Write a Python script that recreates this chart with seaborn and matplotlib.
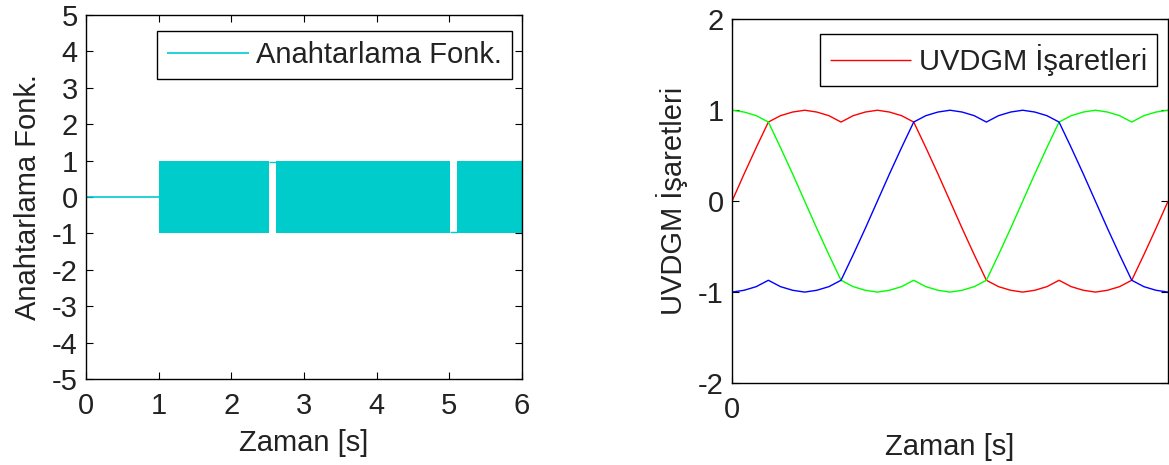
import numpy as np
import pandas as pd
import seaborn as sns
import matplotlib.pyplot as plt

# left panel: switching function
zero_t = [0.0, 1.0]
zero_v = [0.0, 0.0]
switch_start = [1.0, 2.62, 5.10]
switch_end = [2.52, 5.01, 6.0]
hold_start = [2.52, 5.01]
hold_end = [2.62, 5.10]
hold_level = [0.97, -0.97]

# right panel: SVPWM signals, one period (angle in degrees)
angle = [0, 10, 20, 30, 40, 50, 60, 70, 80, 90, 100, 110, 120, 130, 140, 150, 160, 170,
         180, 190, 200, 210, 220, 230, 240, 250, 260, 270, 280, 290, 300, 310, 320, 330,
         340, 350, 360]
phase_a = [0.0, 0.30, 0.59, 0.87, 0.94, 0.98, 1.0, 0.98, 0.94, 0.87, 0.94, 0.98, 1.0,
           0.98, 0.94, 0.87, 0.59, 0.30, 0.0, -0.30, -0.59, -0.87, -0.94, -0.98, -1.0,
           -0.98, -0.94, -0.87, -0.94, -0.98, -1.0, -0.98, -0.94, -0.87, -0.59, -0.30, 0.0]
phase_b = [1.0, 0.98, 0.94, 0.87, 0.59, 0.30, 0.0, -0.30, -0.59, -0.87, -0.94, -0.98,
           -1.0, -0.98, -0.94, -0.87, -0.94, -0.98, -1.0, -0.98, -0.94, -0.87, -0.59,
           -0.30, 0.0, 0.30, 0.59, 0.87, 0.94, 0.98, 1.0, 0.98, 0.94, 0.87, 0.94, 0.98, 1.0]
phase_c = [-1.0, -0.98, -0.94, -0.87, -0.94, -0.98, -1.0, -0.98, -0.94, -0.87, -0.59,
           -0.30, 0.0, 0.30, 0.59, 0.87, 0.94, 0.98, 1.0, 0.98, 0.94, 0.87, 0.94, 0.98,
           1.0, 0.98, 0.94, 0.87, 0.59, 0.30, 0.0, -0.30, -0.59, -0.87, -0.94, -0.98, -1.0]

sns.set_style('ticks')
plt.rcParams['font.family'] = ['Liberation Sans', 'DejaVu Sans']
plt.rcParams['font.size'] = 21
plt.rcParams['axes.unicode_minus'] = False
plt.rcParams['xtick.direction'] = 'in'
plt.rcParams['ytick.direction'] = 'in'
plt.rcParams['xtick.top'] = True
plt.rcParams['ytick.right'] = True
plt.rcParams['xtick.major.size'] = 5
plt.rcParams['ytick.major.size'] = 5
plt.rcParams['xtick.major.pad'] = 9
plt.rcParams['ytick.major.pad'] = 6
plt.rcParams['axes.labelpad'] = 7
plt.rcParams['axes.edgecolor'] = 'black'
plt.rcParams['axes.linewidth'] = 1.0
plt.rcParams['lines.solid_capstyle'] = 'butt'
plt.rcParams['text.color'] = '#222222'
plt.rcParams['axes.labelcolor'] = '#222222'
plt.rcParams['xtick.labelcolor'] = '#222222'
plt.rcParams['ytick.labelcolor'] = '#222222'
plt.rcParams['xtick.color'] = 'black'
plt.rcParams['ytick.color'] = 'black'

cyan = '#00CCCC'

fig = plt.figure(figsize=(11.69, 4.65), dpi=100)
ax1 = fig.add_axes([0.0736, 0.1849, 0.3730, 0.7828])
ax2 = fig.add_axes([0.6262, 0.1763, 0.3730, 0.7822])

# left
sns.lineplot(x=zero_t, y=zero_v, ax=ax1, color=cyan, linewidth=1.2,
             label='Anahtarlama Fonk.')
for s, e in zip(switch_start, switch_end):
    ax1.fill_between([s, e], [-1, -1], [1, 1], color=cyan, linewidth=0)
for s, e, lv in zip(hold_start, hold_end, hold_level):
    sns.lineplot(x=[s, e], y=[lv, lv], ax=ax1, color=cyan, linewidth=1.0)
ax1.set_xlim(0, 6)
ax1.set_ylim(-5, 5)
ax1.set_xticks(range(0, 7))
ax1.set_yticks(range(-5, 6))
ax1.set_xlabel('Zaman [s]')
ax1.set_ylabel('Anahtarlama Fonk.')
leg1 = ax1.legend(loc='upper right', bbox_to_anchor=(0.977, 0.956), borderaxespad=0,
                  fancybox=False, edgecolor='black', framealpha=1, handlelength=2.8,
                  handletextpad=0.25, borderpad=0.35)
leg1.get_frame().set_linewidth(1.0)

# right
df = pd.DataFrame({'angle': angle, 'a': phase_a, 'b': phase_b, 'c': phase_c})
sns.lineplot(data=df, x='angle', y='a', ax=ax2, color='#FF0000', linewidth=1.0,
             label='UVDGM İşaretleri')
sns.lineplot(data=df, x='angle', y='b', ax=ax2, color='#00FF00', linewidth=1.0)
sns.lineplot(data=df, x='angle', y='c', ax=ax2, color='#0000FF', linewidth=1.0)
ax2.set_xlim(0, 360)
ax2.set_ylim(-2, 2)
ax2.set_xticks([0])
ax2.set_yticks(range(-2, 3))
ax2.set_xlabel('Zaman [s]')
ax2.set_ylabel('UVDGM İşaretleri')
leg2 = ax2.legend(loc='upper right', bbox_to_anchor=(0.975, 0.960), borderaxespad=0,
                  fancybox=False, edgecolor='black', framealpha=1, handlelength=2.8,
                  handletextpad=0.25, borderpad=0.35)
leg2.get_frame().set_linewidth(1.0)

for ax in (ax1, ax2):
    for sp in ax.spines.values():
        sp.set_visible(True)

fig.savefig('out.png', dpi=100)
